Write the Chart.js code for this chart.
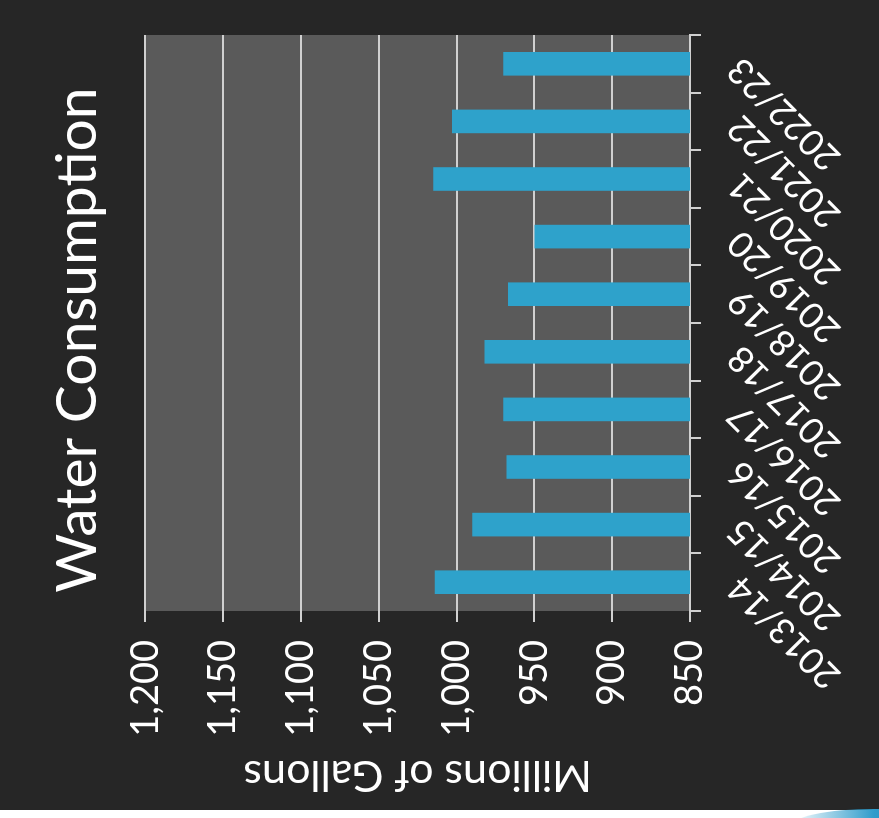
<!DOCTYPE html>
<html>
<head>
<meta charset="utf-8">
<title>Water Consumption</title>
<script src="https://cdn.jsdelivr.net/npm/chart.js@4.4.1/dist/chart.umd.min.js"></script>
<style>
  html, body { margin: 0; padding: 0; background: #fff; }
  #frame {
    position: absolute; left: 0; top: 0;
    width: 879px; height: 810px;
    background: #262626;
  }
  #swoosh {
    position: absolute; left: 790px; top: 809px;
    width: 140px; height: 30px;
    border-radius: 60% 0 0 0;
    background: linear-gradient(to right, rgba(70,170,210,0), #2f9ccb 60%, #1f7fae);
  }
  /* the chart is a normal column chart, turned a quarter turn to the left */
  #turned {
    position: absolute; left: 0; top: 0;
    width: 818px; height: 879px;
    transform-origin: 0 0;
    transform: translate(0, 818px) rotate(-90deg);
  }
</style>
</head>
<body>
<div id="frame"></div>
<div id="swoosh"></div>
<div id="turned"><canvas id="chart" width="818" height="879"></canvas></div>

<script>
// fiscal years
const years = ['2013/14', '2014/15', '2015/16', '2016/17', '2017/18',
               '2018/19', '2019/20', '2020/21', '2021/22', '2022/23'];
// water used, millions of gallons
const gallons = [1014, 990, 968, 970, 982, 967, 950, 1015, 1003, 970];
// value axis
const axisMin = 850;
const axisMax = 1200;
const axisStep = 50;

const FONT = 'Lato';

// grey plot area behind the bars
const plotBackground = {
    id: 'plotBackground',
    beforeDraw: function(chart) {
        const a = chart.chartArea;
        const ctx = chart.ctx;
        ctx.save();
        ctx.fillStyle = '#5a5a5a';
        ctx.fillRect(a.left, a.top, a.right - a.left, a.bottom - a.top);
        ctx.restore();
    }
};

// the title sits a little left of the plot's centre in the original
const nudgeTitle = {
    id: 'nudgeTitle',
    afterLayout: function(chart) {
        if (chart.titleBlock) {
            chart.titleBlock.left -= 34;
        }
    }
};

new Chart(document.getElementById('chart'), {
    type: 'bar',
    data: {
        labels: years,
        datasets: [{
            label: 'Water Consumption',
            data: gallons,
            backgroundColor: '#2ea2cb',
            borderWidth: 0,
            categoryPercentage: 1.0,
            barPercentage: 0.41,
        }]
    },
    options: {
        responsive: false,
        animation: false,
        layout: { padding: { top: 0, right: 35, bottom: 0, left: 0 } },
        plugins: {
            legend: { display: false },
            tooltip: { enabled: false },
            title: {
                display: true,
                text: 'Water Consumption',
                color: '#ffffff',
                fullSize: false,
                font: { family: FONT, size: 57, weight: 'normal' },
                padding: { top: 43, bottom: 34 }
            }
        },
        scales: {
            x: {
                grid: {
                    drawOnChartArea: false,
                    color: '#d0d0d0',
                    lineWidth: 2,
                    tickLength: 11,
                    offset: true
                },
                border: { color: '#d0d0d0', width: 2 },
                ticks: {
                    autoSkip: false,
                    color: '#ffffff',
                    font: { family: FONT, size: 36 },
                    minRotation: 45,
                    maxRotation: 45,
                    padding: 18
                },
                afterFit: function(scale) { scale.height = 189; }
            },
            y: {
                min: axisMin,
                max: axisMax,
                grid: {
                    color: '#d0d0d0',
                    lineWidth: 2,
                    tickLength: 11
                },
                border: { display: false },
                ticks: {
                    stepSize: axisStep,
                    color: '#ffffff',
                    font: { family: FONT, size: 38 },
                    padding: 18
                },
                title: {
                    display: true,
                    text: 'Millions of Gallons',
                    color: '#ffffff',
                    font: { family: FONT, size: 43 },
                    padding: { top: 17, bottom: 0 }
                },
                afterFit: function(scale) { scale.width = 207; }
            }
        }
    },
    plugins: [plotBackground, nudgeTitle]
});
</script>
</body>
</html>
